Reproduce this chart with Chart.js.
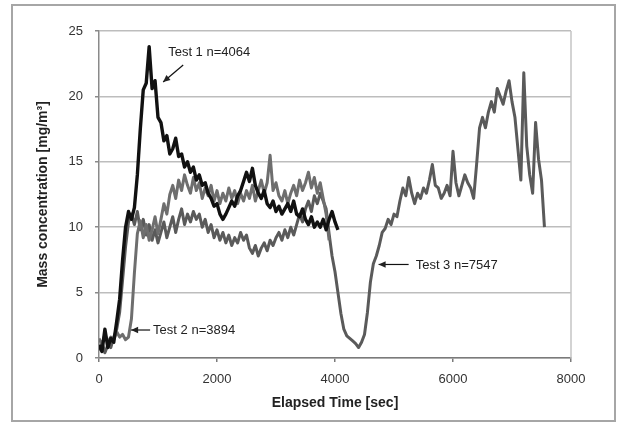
<!DOCTYPE html>
<html><head><meta charset="utf-8">
<script src="https://cdn.jsdelivr.net/npm/chart.js@4/dist/chart.umd.min.js"></script>
<style>html,body{margin:0;padding:0;background:#fff;}canvas{display:block;}</style>
</head><body>
<canvas id="c" width="620" height="424"></canvas>
<script>
// ---- data ----
const sampleStepSec = 50;
const seriesLabels = ['Test 1 n=4064', 'Test 2 n=3894', 'Test 3 n=7547'];
const test1Values = [
  1.0,0.5,2.2,0.8,1.5,1.2,2.8,4.5,7.5,10.0,
  11.2,10.6,11.5,14.0,17.5,20.5,21.0,23.8,20.6,21.2,
  18.4,18.0,16.6,17.0,15.6,16.0,16.8,15.4,15.6,14.6,
  15.0,14.2,14.6,13.6,14.0,13.2,13.4,12.6,12.2,11.6,
  11.8,11.0,10.6,11.0,11.5,12.0,11.6,12.4,12.8,13.5,
  14.2,13.5,14.5,13.2,12.6,12.2,12.8,11.8,11.5,12.0,
  11.2,11.6,11.0,11.4,11.8,11.2,12.0,11.0,10.8,11.4,
  10.6,10.2,10.8,10.0,10.4,10.0,10.6,9.8,10.6,11.2,
  10.4,9.8
];
const test2Values = [
  1.5,1.0,1.8,1.2,1.6,1.4,2.0,1.6,1.8,1.4,
  1.6,3.0,6.5,9.5,10.5,9.2,10.2,9.0,9.8,10.8,
  9.5,10.6,11.8,11.0,12.5,13.2,12.2,13.6,12.8,14.0,
  13.2,12.6,13.8,12.8,13.4,12.2,13.0,12.4,13.2,12.0,
  12.8,11.8,12.6,12.0,13.0,12.2,12.8,11.8,12.6,12.0,
  12.8,12.2,13.2,12.0,12.8,13.6,12.6,13.4,15.5,12.8,
  13.4,12.4,12.0,12.8,11.8,12.6,13.2,12.4,13.6,12.8,
  13.4,14.2,13.0,13.8,12.6,13.4,12.2,11.0,9.0
];
const test3Values = [
  0.6,1.2,0.4,1.0,0.8,1.6,2.2,3.5,6.0,8.5,
  10.4,11.0,10.2,11.2,9.8,10.6,9.4,10.2,9.0,9.8,
  8.8,9.6,10.4,9.2,10.0,10.8,9.6,10.6,11.4,10.2,
  11.0,10.4,11.2,10.6,11.0,10.0,10.6,9.6,10.2,9.2,
  9.8,9.0,9.6,8.8,9.4,8.6,9.2,8.8,9.6,9.0,
  9.4,8.4,8.0,8.6,7.8,8.4,8.8,8.2,9.0,8.6,
  9.2,9.6,9.0,9.8,9.2,10.0,9.4,10.2,11.0,10.4,
  11.4,12.0,11.2,12.4,11.8,12.6,12.0,11.4,9.5,7.8,
  6.6,5.0,3.4,2.2,1.7,1.5,1.3,1.1,0.8,1.2,
  1.8,3.5,5.8,7.2,7.8,8.6,9.6,9.9,10.6,10.2,
  11.0,10.8,12.0,13.0,12.4,13.8,12.6,11.8,12.6,12.2,
  13.0,12.6,13.6,14.8,13.2,13.0,12.2,12.6,13.2,12.4,
  15.8,13.4,12.4,13.2,14.0,13.4,13.0,12.2,14.8,17.6,
  18.4,17.6,18.8,19.6,18.8,20.6,20.0,19.4,20.4,21.2,
  19.6,18.4,16.0,13.6,21.8,16.2,14.0,12.6,18.0,15.2,
  13.6,10.0
];
const xTickValues = [0, 2000, 4000, 6000, 8000];
const yTickValues = [0, 5, 10, 15, 20, 25];
const xAxisTitle = 'Elapsed Time [sec]';
const yAxisTitle = 'Mass concentration [mg/m³]';
// annotation anchors in data units (time, value)
const noteTextTime = [1172, 917, 5367];
const noteTextValue = [23.4, 2.14, 7.1];
const noteArrowFromTime = [1427, 866, 5248];
const noteArrowFromValue = [22.4, 2.14, 7.15];
const noteArrowToTime = [1087, 544, 4739];
const noteArrowToValue = [21.1, 2.14, 7.15];

// ---- styling ----
const FONT = '"Liberation Sans", Arial, sans-serif';
const seriesColors = ['#111111', '#6e6e6e', '#5a5a5a'];
const seriesWidths = [3.4, 3, 3];

function toPoints(values) {
  return values.map((v, i) => ({ x: i * sampleStepSec, y: v }));
}
const allSeries = [test1Values, test2Values, test3Values];

const framePlugin = {
  id: 'frame',
  beforeDraw(chart) {
    const ctx = chart.ctx;
    ctx.save();
    ctx.fillStyle = '#ffffff';
    ctx.fillRect(0, 0, chart.width, chart.height);
    ctx.strokeStyle = '#a6a6a6';
    ctx.lineWidth = 2;
    ctx.strokeRect(12, 5, 603, 416);
    ctx.restore();
  },
  beforeDatasetsDraw(chart) {
    const { ctx, chartArea: a } = chart;
    ctx.save();
    ctx.strokeStyle = '#c4c4c4';
    ctx.lineWidth = 1.5;
    ctx.beginPath();
    ctx.moveTo(a.right, a.top);
    ctx.lineTo(a.right, a.bottom);
    ctx.stroke();
    ctx.restore();
  }
};

function drawArrow(ctx, x1, y1, x2, y2) {
  ctx.beginPath();
  ctx.moveTo(x1, y1);
  ctx.lineTo(x2, y2);
  ctx.stroke();
  const ang = Math.atan2(y2 - y1, x2 - x1);
  const len = 7, half = 3.2;
  ctx.beginPath();
  ctx.moveTo(x2, y2);
  ctx.lineTo(x2 - len * Math.cos(ang) + half * Math.sin(ang), y2 - len * Math.sin(ang) - half * Math.cos(ang));
  ctx.lineTo(x2 - len * Math.cos(ang) - half * Math.sin(ang), y2 - len * Math.sin(ang) + half * Math.cos(ang));
  ctx.closePath();
  ctx.fill();
}

const notesPlugin = {
  id: 'notes',
  afterDatasetsDraw(chart) {
    const { ctx, scales: { x, y } } = chart;
    ctx.save();
    ctx.font = '13px ' + FONT;
    ctx.fillStyle = '#222222';
    ctx.strokeStyle = '#111111';
    ctx.lineWidth = 1.2;
    ctx.textBaseline = 'middle';
    ctx.textAlign = 'left';
    for (let i = 0; i < seriesLabels.length; i++) {
      ctx.fillText(seriesLabels[i], x.getPixelForValue(noteTextTime[i]), y.getPixelForValue(noteTextValue[i]));
      drawArrow(ctx,
        x.getPixelForValue(noteArrowFromTime[i]), y.getPixelForValue(noteArrowFromValue[i]),
        x.getPixelForValue(noteArrowToTime[i]), y.getPixelForValue(noteArrowToValue[i]));
    }
    ctx.restore();
  }
};

new Chart(document.getElementById('c'), {
  type: 'line',
  data: {
    datasets: allSeries.map((vals, i) => ({
      label: seriesLabels[i],
      data: toPoints(vals),
      borderColor: seriesColors[i],
      backgroundColor: seriesColors[i],
      borderWidth: seriesWidths[i],
      borderJoinStyle: 'round',
      pointRadius: 0,
      tension: 0,
      fill: false
    }))
  },
  options: {
    responsive: false,
    animation: false,
    devicePixelRatio: 1,
    layout: { padding: { left: 0, right: 49, top: 31, bottom: 0 } },
    plugins: { legend: { display: false }, tooltip: { enabled: false } },
    scales: {
      x: {
        type: 'linear', min: 0, max: 8000,
        afterBuildTicks: s => { s.ticks = xTickValues.map(v => ({ value: v })); },
        grid: { drawOnChartArea: false, drawTicks: true, tickLength: 4, color: '#7a7a7a', lineWidth: 1.5 },
        border: { color: '#7a7a7a', width: 1.5 },
        ticks: { font: { family: FONT, size: 13 }, color: '#333333', padding: 10, maxRotation: 0, callback: v => String(v) },
        title: { display: true, text: xAxisTitle, font: { family: FONT, size: 14, weight: 'bold' }, color: '#222222', padding: { top: 0, bottom: 12 } },
        afterFit: s => { s.height = 66; }
      },
      y: {
        min: 0, max: 25,
        afterBuildTicks: s => { s.ticks = yTickValues.map(v => ({ value: v })); },
        grid: { color: '#bdbdbd', lineWidth: 1.5, tickLength: 4, tickColor: '#8a8a8a' },
        border: { color: '#8a8a8a', width: 1.5 },
        ticks: { font: { family: FONT, size: 13 }, color: '#333333', padding: 12, callback: v => String(v) },
        title: { display: true, text: yAxisTitle, font: { family: FONT, size: 14, weight: 'bold' }, color: '#222222', padding: { top: 35, bottom: 0 } },
        afterFit: s => { s.width = 99; }
      }
    }
  },
  plugins: [framePlugin, notesPlugin]
});
</script>
</body></html>
